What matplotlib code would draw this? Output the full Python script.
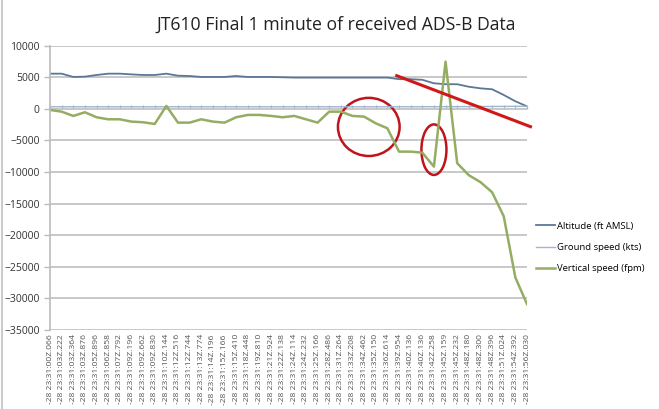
import matplotlib
matplotlib.use("Agg")
from matplotlib import pyplot as plt
from matplotlib.patches import Ellipse
from matplotlib.lines import Line2D

plt.rcParams["font.family"] = ["Open Sans", "DejaVu Sans"]

timestamps = [
    "00Z.066", "03Z.222", "03Z.364", "03Z.876", "05Z.896", "06Z.858", "07Z.792",
    "09Z.196", "09Z.662", "09Z.830", "10Z.144", "12Z.516", "12Z.744", "13Z.774",
    "14Z.196", "15Z.166", "15Z.410", "18Z.448", "19Z.810", "21Z.924", "22Z.138",
    "24Z.114", "24Z.232", "25Z.166", "28Z.486", "31Z.264", "33Z.208", "34Z.462",
    "35Z.150", "36Z.614", "39Z.954", "40Z.136", "40Z.136", "42Z.258", "45Z.159",
    "45Z.232", "48Z.180", "48Z.300", "48Z.396", "51Z.024", "54Z.392", "56Z.030",
]
labels = ["-28 23:31:" + t for t in timestamps]

altitude = [
    5570, 5570, 5050, 5100, 5360, 5570, 5570, 5460, 5360, 5360, 5570, 5250, 5200, 5050,
    5050, 5050, 5200, 5050, 5050, 5050, 5000, 4950, 4950, 4950, 4950, 4950, 4950, 4950,
    4950, 4950, 4700, 4700, 4600, 4050, 3900, 3900, 3500, 3250, 3100, 2200, 1200, 400,
]
ground_speed = [
    330, 330, 330, 330, 330, 330, 330, 330, 330, 330, 330, 330, 330, 330,
    330, 330, 330, 330, 330, 330, 330, 330, 330, 330, 330, 330, 330, 330,
    330, 330, 330, 340, 340, 340, 350, 350, 360, 370, 380, 390, 400, 410,
]
vertical_speed = [
    -170, -440, -1120, -540, -1330, -1650, -1650, -2020, -2120, -2390, 460, -2180, -2180, -1650,
    -2020, -2180, -1330, -960, -960, -1120, -1330, -1120, -1650, -2180, -440, -440, -1120, -1230,
    -2290, -3080, -6770, -6770, -6930, -9140, 7470, -8600, -10500, -11600, -13200, -17000, -26700, -30900,
]

x = list(range(len(labels)))

fig = plt.figure(figsize=(6.59, 4.09), dpi=100)
ax = fig.add_axes([0.0759, 0.1932, 0.7238, 0.6951])

ax.plot(x, altitude, color="#5B7797", lw=1.3, label="Altitude (ft AMSL)")
ax.plot(x, ground_speed, color="#9FB6D0", lw=1.0, label="Ground speed (kts)")
ax.plot(x, vertical_speed, color="#94AD62", lw=1.8, label="Vertical speed (fpm)")

ax.set_xlim(0, len(labels) - 1)
ax.set_ylim(-35000, 10000)
ax.set_yticks(range(-35000, 10001, 5000))
ax.yaxis.grid(True, color="#C4C4C4", lw=1.3)
ax.set_axisbelow(True)
ax.tick_params(axis="y", labelsize=7.5, labelcolor="#333333", color="#BBBBBB", length=4, width=1)

ax.set_xticks(x)
ax.set_xticklabels(labels, rotation=90, fontsize=6.1, color="#555555")
ax.tick_params(axis="x", length=0, pad=3)

for side in ["top", "right", "bottom"]:
    ax.spines[side].set_visible(False)
ax.spines["left"].set_color("#BBBBBB")
ax.spines["left"].set_linewidth(1.2)

# category axis crossing at zero, with tick marks
zero_frac = (0 - ax.get_ylim()[0]) / (ax.get_ylim()[1] - ax.get_ylim()[0])
cat_axis = ax.secondary_xaxis(zero_frac)
cat_axis.set_xticks(x)
cat_axis.tick_params(length=3, color="#B5B5B5", width=0.9, labelbottom=False, labeltop=False)
cat_axis.spines["bottom"].set_color("#AAAAAA")
cat_axis.spines["bottom"].set_linewidth(1.3)
cat_axis.spines["top"].set_visible(False)

fig.suptitle("JT610 Final 1 minute of received ADS-B Data", x=0.51, y=0.962,
             fontsize=12.7, color="#222222")

ax.legend(loc="center left", bbox_to_anchor=(1.0, 0.29), frameon=False, fontsize=6.8,
          handlelength=2.0, handletextpad=0.2, labelspacing=1.3, borderaxespad=0.6)

# red annotations
ax.add_patch(Ellipse((27.4, -2860), 5.3, 9200, fill=False, ec="#C0141C", lw=1.8, clip_on=False))
ax.add_patch(Ellipse((33.0, -6460), 2.15, 8000, fill=False, ec="#C0141C", lw=1.8, clip_on=False))
ax.add_line(Line2D([29.8, 41.3], [5250, -2820], color="#D01818", lw=2.2, clip_on=False))

fig.add_artist(Line2D([0.003, 0.003], [0.0, 1.0], color="#CCCCCC", lw=1.5))

fig.savefig("out.png", dpi=100)
